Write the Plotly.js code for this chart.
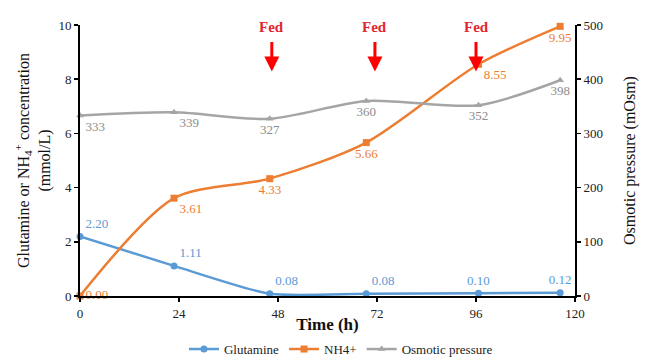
<!DOCTYPE html>
<html>
<head>
<meta charset="utf-8">
<script src="https://cdn.plot.ly/plotly-3.0.1.min.js"></script>
<style>html,body{margin:0;padding:0;background:#fff;}#chart{width:650px;height:364px;}</style>
</head>
<body>
<div id="chart"></div>
<script>
// Data
const timeH = [0, 22.8, 46, 69.4, 96.6, 116.4];
const glutamine = [2.20, 1.11, 0.08, 0.08, 0.10, 0.12];
const nh4 = [0.00, 3.61, 4.33, 5.66, 8.55, 9.95];
const osmotic = [333, 339, 327, 360, 352, 398];
const fedTimes = [46.5, 71.5, 96];
const xTicks = [0, 24, 48, 72, 96, 120];

const serif = "Times New Roman, Liberation Serif, serif";

const traces = [
  {
    x: timeH, y: glutamine, name: 'Glutamine', type: 'scatter', mode: 'lines+markers+text',
    line: {color: '#5B9BD5', width: 2.5, shape: 'spline', smoothing: 0.6},
    marker: {symbol: 'circle', size: 7, color: '#5B9BD5'},
    text: glutamine.map(v => v.toFixed(2)),
    textposition: ['top right','top right','top right','top right','top center','top center'],
    textfont: {family: serif, size: 13, color: '#5B9BD5'},
    cliponaxis: false, yaxis: 'y'
  },
  {
    x: timeH, y: nh4, name: 'NH4+', type: 'scatter', mode: 'lines+markers+text',
    line: {color: '#ED7D31', width: 2.5, shape: 'spline', smoothing: 0.8},
    marker: {symbol: 'square', size: 7, color: '#ED7D31'},
    text: nh4.map(v => v.toFixed(2)),
    textposition: ['middle right','bottom right','bottom center','bottom center','bottom right','bottom center'],
    textfont: {family: serif, size: 13, color: '#ED7D31'},
    cliponaxis: false, yaxis: 'y'
  },
  {
    x: timeH, y: osmotic, name: 'Osmotic pressure', type: 'scatter', mode: 'lines+markers+text',
    line: {color: '#A5A5A5', width: 2.5, shape: 'spline', smoothing: 0.8},
    marker: {symbol: 'triangle-up', size: 7, color: '#A5A5A5'},
    text: osmotic.map(v => String(v)),
    textposition: ['bottom right','bottom right','bottom center','bottom center','bottom center','bottom center'],
    textfont: {family: serif, size: 13, color: '#8C8C8C'},
    cliponaxis: false, yaxis: 'y2'
  }
];

const annotations = fedTimes.map(t => ({
  x: t, y: 8.28, xref: 'x', yref: 'y',
  text: '<b>Fed</b>', showarrow: true,
  ax: 0, ay: -45,
  arrowhead: 2, arrowsize: 1, arrowwidth: 3, arrowcolor: '#FF0000',
  startstandoff: 6,
  font: {family: serif, size: 15, color: '#E3262E'}
}));

const layout = {
  width: 650, height: 364,
  margin: {l: 80, r: 75, t: 25, b: 68, autoexpand: false},
  paper_bgcolor: '#fff', plot_bgcolor: '#fff',
  font: {family: serif, size: 13, color: '#222'},
  showlegend: true,
  legend: {
    orientation: 'h', x: 0.21, xanchor: 'left',
    yref: 'container', y: 0.041, yanchor: 'middle',
    font: {family: serif, size: 13, color: '#222'},
    itemwidth: 30, tracegroupgap: 0
  },
  xaxis: {
    range: [0, 120], tickvals: xTicks, ticktext: xTicks.map(String),
    showgrid: false, zeroline: false,
    showline: true, linecolor: '#000', linewidth: 2,
    ticks: 'outside', ticklen: 4, tickwidth: 1.5, tickcolor: '#000',
    tickfont: {family: serif, size: 13, color: '#222'},
    title: {text: '<b>Time (h)</b>', font: {family: serif, size: 17, color: '#111'}, standoff: 8}
  },
  yaxis: {
    range: [0, 10], dtick: 2,
    showgrid: false, zeroline: false,
    showline: true, linecolor: '#000', linewidth: 2,
    ticks: 'outside', ticklen: 4, tickwidth: 1.5, tickcolor: '#000',
    tickfont: {family: serif, size: 13, color: '#222'},
    title: {text: 'Glutamine or NH<sub>4</sub><sup>+</sup> concentration<br>(mmol/L)', font: {family: serif, size: 16, color: '#111'}, standoff: 4}
  },
  yaxis2: {
    range: [0, 500], dtick: 100, overlaying: 'y', side: 'right',
    showgrid: false, zeroline: false,
    showline: true, linecolor: '#000', linewidth: 2,
    ticks: 'outside', ticklen: 4, tickwidth: 1.5, tickcolor: '#000',
    tickfont: {family: serif, size: 13, color: '#222'},
    title: {text: 'Osmotic pressure (mOsm)', font: {family: serif, size: 16, color: '#111'}, standoff: 22}
  },
  annotations: annotations
};

Plotly.newPlot('chart', traces, layout, {displayModeBar: false, staticPlot: true});
</script>
</body>
</html>
